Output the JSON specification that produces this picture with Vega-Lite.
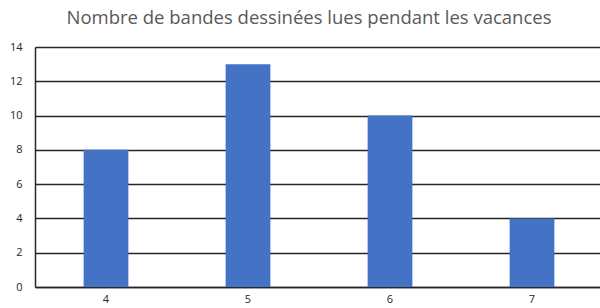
{
  "$schema": "https://vega.github.io/schema/vega-lite/v6.json",
  "autosize": "none",
  "width": 568,
  "height": 240,
  "padding": {"left": 35, "top": 47, "right": 0, "bottom": 21},
  "background": "white",
  "title": {
    "text": "Nombre de bandes dessinées lues pendant les vacances",
    "font": "Open Sans",
    "fontSize": 18.5,
    "fontWeight": "normal",
    "color": "#595959",
    "anchor": "middle",
    "dx": -10,
    "offset": 14
  },
  "config": {
    "view": {"stroke": null},
    "axis": {
      "labelFont": "Open Sans",
      "labelFontSize": 11,
      "labelColor": "#262626",
      "titleFontSize": 0
    }
  },
  "data": {
    "values": [
      {"x": "4", "n": 8},
      {"x": "5", "n": 13},
      {"x": "6", "n": 10},
      {"x": "7", "n": 4}
    ]
  },
  "mark": {"type": "bar", "color": "#4472C4", "width": {"band": 0.315}},
  "encoding": {
    "x": {
      "field": "x",
      "type": "ordinal",
      "title": null,
      "scale": {"paddingInner": 0, "paddingOuter": 0},
      "axis": {
        "labelAngle": 0,
        "ticks": false,
        "domainColor": "#262626",
        "labelPadding": 6,
        "domainWidth": 1.5
      }
    },
    "y": {
      "field": "n",
      "type": "quantitative",
      "title": null,
      "scale": {"domain": [0, 14], "nice": false},
      "axis": {
        "values": [0, 2, 4, 6, 8, 10, 12, 14],
        "ticks": false,
        "domain": true,
        "domainColor": "#262626",
        "domainWidth": 1.5,
        "gridColor": "#262626",
        "gridOpacity": 1,
        "gridWidth": 1.5,
        "labelPadding": 13
      }
    }
  }
}
